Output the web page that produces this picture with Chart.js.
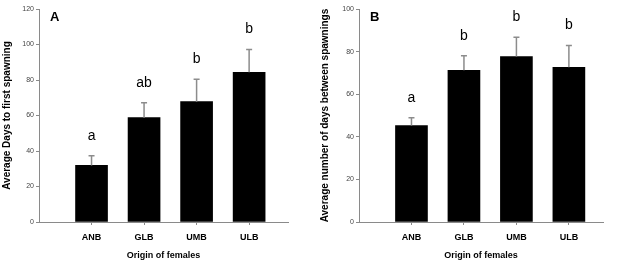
<!DOCTYPE html>
<html>
<head>
<meta charset="utf-8">
<script src="https://cdn.jsdelivr.net/npm/chart.js@4"></script>
<style>
    body { margin: 0; background: #fff; width: 627px; height: 265px; overflow: hidden; position: relative; }
    .panel { position: absolute; top: 0; height: 265px; }
    #panelA { left: 0; width: 310px; }
    #panelB { left: 318px; width: 309px; }
</style>
</head>
<body>
<div class="panel" id="panelA"><canvas id="chartA"></canvas></div>
<div class="panel" id="panelB"><canvas id="chartB"></canvas></div>
<script>
const categories = ['ANB', 'GLB', 'UMB', 'ULB'];

// Panel A - days to first spawning
const firstSpawnMeans = [31.9, 58.8, 67.8, 84.3];
const firstSpawnErrors = [5.4, 8.4, 12.6, 12.9];
const firstSpawnLetters = ['a', 'ab', 'b', 'b'];
const firstSpawnTicks = [0, 20, 40, 60, 80, 100, 120];

// Panel B - days between spawnings
const betweenMeans = [45.3, 71.2, 77.7, 72.6];
const betweenErrors = [3.6, 6.9, 9.0, 10.3];
const betweenLetters = ['a', 'b', 'b', 'b'];
const betweenTicks = [0, 20, 40, 60, 80, 100];

const axisGrey = '#8a8a8a';

// draws the upper error bars and the significance letters
const errorBarPlugin = {
    id: 'errorBars',
    afterDatasetsDraw(chart, args, opts) {
        const ctx = chart.ctx;
        const xs = chart.scales.x;
        const ys = chart.scales.y;
        ctx.save();
        opts.means.forEach((m, i) => {
            const x = xs.getPixelForValue(i + 1);
            const yTop = ys.getPixelForValue(m);
            const yCap = ys.getPixelForValue(m + opts.errors[i]);
            ctx.strokeStyle = '#8c8c8c';
            ctx.lineWidth = 1.5;
            ctx.beginPath();
            ctx.moveTo(x, yTop);
            ctx.lineTo(x, yCap);
            ctx.moveTo(x - 3, yCap);
            ctx.lineTo(x + 3, yCap);
            ctx.stroke();

            ctx.fillStyle = '#000';
            ctx.font = '14px "Liberation Sans", Arial, sans-serif';
            ctx.textAlign = 'center';
            ctx.textBaseline = 'middle';
            ctx.fillText(opts.letters[i], x, yCap - 20);
        });
        ctx.font = 'bold 13px "Liberation Sans", Arial, sans-serif';
        ctx.textAlign = 'left';
        ctx.textBaseline = 'middle';
        ctx.fillStyle = '#000';
        ctx.fillText(opts.panel, chart.chartArea.left + opts.panelDx, 17);
        ctx.restore();
    }
};

function makeChart(id, cfg) {
    const ctx = document.getElementById(id).getContext('2d');
    return new Chart(ctx, {
        type: 'bar',
        data: {
            datasets: [{
                data: cfg.means.map((v, i) => ({ x: i + 1, y: v })),
                backgroundColor: '#000',
                borderColor: '#000',
                borderWidth: 0,
                barThickness: 32
            }]
        },
        options: {
            responsive: false,
            animation: false,
            devicePixelRatio: 1,
            layout: { padding: { top: 9, right: cfg.padRight, bottom: 0, left: 0 } },
            plugins: {
                legend: { display: false },
                tooltip: { enabled: false },
                errorBars: {
                    means: cfg.means,
                    errors: cfg.errors,
                    letters: cfg.letters,
                    panel: cfg.panel,
                    panelDx: cfg.panelDx
                }
            },
            scales: {
                x: {
                    type: 'linear',
                    offset: false,
                    min: 0,
                    max: cfg.xMax,
                    afterBuildTicks: (scale) => {
                        scale.ticks = categories.map((c, i) => ({ value: i + 1 }));
                    },
                    afterFit: (scale) => { scale.height = 43; },
                    grid: { offset: false, drawOnChartArea: false, drawTicks: true, tickLength: 3, tickColor: axisGrey },
                    border: { display: true, color: axisGrey, width: 1 },
                    ticks: {
                        autoSkip: false,
                        maxRotation: 0,
                        padding: 7,
                        color: '#000',
                        font: { family: '"Liberation Sans", Arial, sans-serif', size: 9, weight: 'bold' },
                        callback: (v) => categories[v - 1]
                    },
                    title: {
                        display: true,
                        text: 'Origin of females',
                        color: '#000',
                        padding: { top: 0, bottom: 4 },
                        font: { family: '"Liberation Sans", Arial, sans-serif', size: 9, weight: 'bold' }
                    }
                },
                y: {
                    min: 0,
                    max: cfg.yMax,
                    afterBuildTicks: (scale) => {
                        scale.ticks = cfg.ticks.map(v => ({ value: v }));
                    },
                    afterFit: (scale) => { scale.width = cfg.yWidth; },
                    grid: { drawOnChartArea: false, drawTicks: true, tickLength: 3, tickColor: axisGrey },
                    border: { display: true, color: axisGrey, width: 1 },
                    ticks: {
                        padding: 2,
                        color: '#444',
                        font: { family: '"Liberation Sans", Arial, sans-serif', size: 7 }
                    },
                    title: {
                        display: true,
                        text: cfg.yTitle,
                        color: '#000',
                        padding: { top: 1, bottom: 0 },
                        font: { family: '"Liberation Sans", Arial, sans-serif', size: 10, weight: 'bold' }
                    }
                }
            }
        },
        plugins: [errorBarPlugin]
    });
}

document.getElementById('chartA').width = 310;
document.getElementById('chartA').height = 265;
document.getElementById('chartB').width = 309;
document.getElementById('chartB').height = 265;

makeChart('chartA', {
    means: firstSpawnMeans,
    errors: firstSpawnErrors,
    letters: firstSpawnLetters,
    ticks: firstSpawnTicks,
    yMax: 120,
    xMax: 4.74,
    yWidth: 39,
    padRight: 22,
    panel: 'A',
    panelDx: 11,
    yTitle: 'Average Days to first spawning'
});

makeChart('chartB', {
    means: betweenMeans,
    errors: betweenErrors,
    letters: betweenLetters,
    ticks: betweenTicks,
    yMax: 100,
    xMax: 4.65,
    yWidth: 41,
    padRight: 24,
    panel: 'B',
    panelDx: 11,
    yTitle: 'Average number of days between spawnings'
});
</script>
</body>
</html>
